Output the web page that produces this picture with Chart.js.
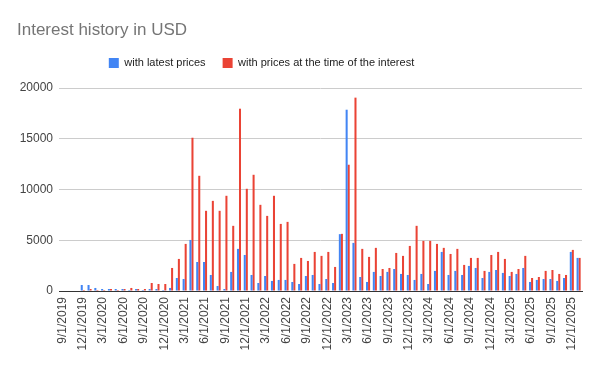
<!DOCTYPE html>
<html>
<head>
<meta charset="utf-8">
<script src="https://cdn.jsdelivr.net/npm/chart.js@4/dist/chart.umd.min.js"></script>
<style>html,body{margin:0;padding:0;background:#fff}</style>
</head>
<body>
<canvas id="c" width="600" height="371"></canvas>
<script>
const categories = [
  '9/1/2019','10/1/2019','11/1/2019','12/1/2019',
  '1/1/2020','2/1/2020','3/1/2020','4/1/2020','5/1/2020','6/1/2020','7/1/2020','8/1/2020','9/1/2020','10/1/2020','11/1/2020','12/1/2020',
  '1/1/2021','2/1/2021','3/1/2021','4/1/2021','5/1/2021','6/1/2021','7/1/2021','8/1/2021','9/1/2021','10/1/2021','11/1/2021','12/1/2021',
  '1/1/2022','2/1/2022','3/1/2022','4/1/2022','5/1/2022','6/1/2022','7/1/2022','8/1/2022','9/1/2022','10/1/2022','11/1/2022','12/1/2022',
  '1/1/2023','2/1/2023','3/1/2023','4/1/2023','5/1/2023','6/1/2023','7/1/2023','8/1/2023','9/1/2023','10/1/2023','11/1/2023','12/1/2023',
  '1/1/2024','2/1/2024','3/1/2024','4/1/2024','5/1/2024','6/1/2024','7/1/2024','8/1/2024','9/1/2024','10/1/2024','11/1/2024','12/1/2024',
  '1/1/2025','2/1/2025','3/1/2025','4/1/2025','5/1/2025','6/1/2025','7/1/2025','8/1/2025','9/1/2025','10/1/2025','11/1/2025','12/1/2025',
  '1/1/2026'
];

const withLatestPrices = [
  0, 0, 0, 590,
  590, 300, 200, 200, 200, 200, 100, 200, 100, 200, 200, 100,
  300, 1280, 1180, 5030, 2860, 2860, 1580, 490, 200, 1880, 4150, 3550,
  1580, 790, 1480, 990, 1090, 1090, 890, 690, 1480, 1580, 690, 1180,
  790, 5600, 17860, 4740, 1380, 890, 1880, 1480, 1880, 2170, 1680, 1580,
  1090, 1680, 690, 1980, 3850, 1580, 1980, 1580, 2470, 2270, 1280, 1880,
  2070, 1780, 1480, 1680, 2270, 890, 1090, 1180, 1180, 990, 1280, 3850,
  3260
];

const withPricesAtTime = [
  0, 0, 0, 100,
  200, 100, 100, 200, 100, 200, 300, 200, 200, 790, 690, 690,
  2270, 3160, 4640, 15100, 11350, 7900, 8880, 7900, 9380, 6420, 17960, 10070,
  11450, 8490, 7400, 9380, 6610, 6810, 2670, 3260, 2960, 3850, 3460, 3850,
  2370, 5630, 12440, 19050, 4150, 3360, 4250, 2170, 2270, 3750, 3460, 4440,
  6420, 4940, 4940, 4640, 4250, 3650, 4150, 2570, 3260, 3260, 1980, 3550,
  3850, 3160, 1880, 2170, 3460, 1280, 1380, 1980, 2070, 1680, 1580, 4050,
  3260
];

const seriesNames = ['with latest prices', 'with prices at the time of the interest'];
const yTickValues = [0, 5000, 10000, 15000, 20000];
const labelEvery = 3;

const FONT = "'Liberation Sans', Arial, sans-serif";

const legendShift = {
  id: 'legendShift',
  afterLayout(chart) {
    const l = chart.legend;
    if (l) { l.left -= 38; l.right -= 38; }
  }
};

new Chart(document.getElementById('c'), {
  type: 'bar',
  data: {
    labels: categories,
    datasets: [
      { label: seriesNames[0], data: withLatestPrices, backgroundColor: '#4285F4', borderWidth: 0 },
      { label: seriesNames[1], data: withPricesAtTime, backgroundColor: '#EA4335', borderWidth: 0 }
    ]
  },
  options: {
    responsive: false,
    animation: false,
    devicePixelRatio: 1,
    categoryPercentage: 0.6,
    barPercentage: 1.0,
    layout: { padding: { left: 17, right: 18, top: 0, bottom: 0 } },
    plugins: {
      title: {
        display: true, text: 'Interest history in USD', align: 'start', color: '#757575',
        font: { family: FONT, size: 17, weight: 'normal', lineHeight: 1.2 },
        padding: { top: 20, bottom: 0 }
      },
      subtitle: {
        display: true, text: '', position: 'top', weight: 500,
        font: { family: FONT, size: 10, lineHeight: 0.96 },
        padding: 0
      },
      legend: {
        display: true, position: 'top', align: 'center',
        labels: {
          boxWidth: 10, boxHeight: 10, padding: 17, color: '#222',
          font: { family: FONT, size: 11 }
        }
      },
      tooltip: { enabled: false }
    },
    scales: {
      x: {
        grid: { display: false, drawTicks: false },
        border: { display: true, color: '#333', width: 1 },
        ticks: {
          autoSkip: false, minRotation: 90, maxRotation: 90, padding: 6,
          color: '#444', font: { family: FONT, size: 12 },
          callback: function (v, i) { return i % labelEvery === 0 ? this.getLabelForValue(v) : ''; }
        },
        afterFit(s) { s.height = 80; }
      },
      y: {
        min: 0, max: 20000,
        afterBuildTicks(s) { s.ticks = yTickValues.map(v => ({ value: v })); },
        grid: {
          color: (ctx) => (ctx.tick && ctx.tick.value === 0 ? '#333' : '#cccccc'),
          drawTicks: false, lineWidth: 1
        },
        border: { display: false },
        ticks: {
          padding: 6, color: '#444', font: { family: FONT, size: 12 },
          callback: (v) => String(v)
        },
        afterFit(s) { s.width = 42; }
      }
    }
  },
  plugins: [legendShift]
});
</script>
</body>
</html>
